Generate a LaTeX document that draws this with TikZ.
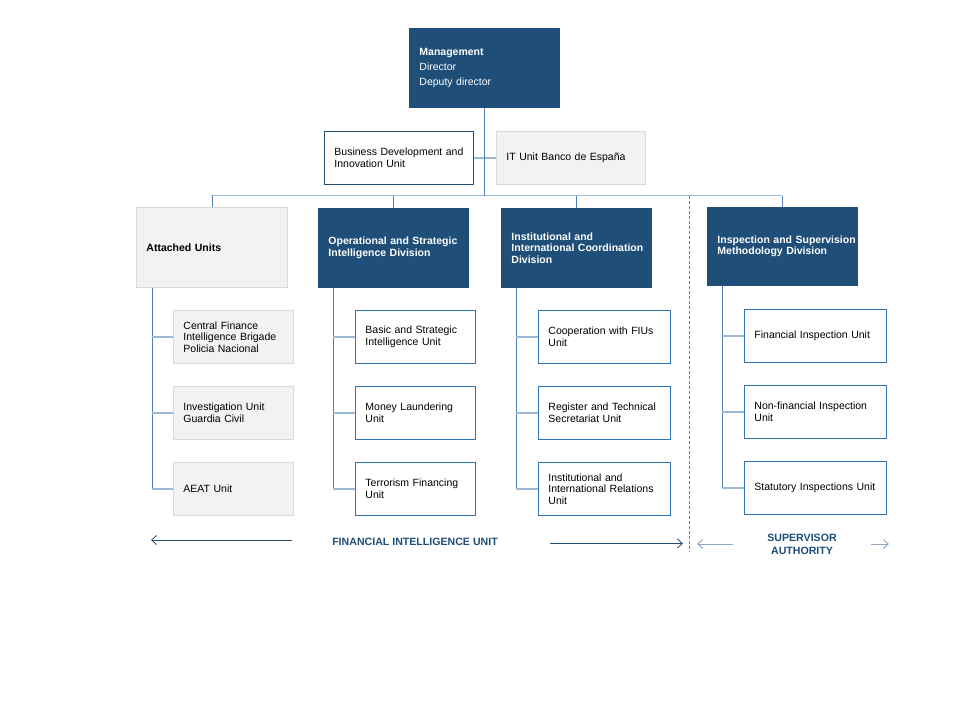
\documentclass[tikz,border=0pt]{standalone}
\usepackage{fontspec}
\setmainfont{Liberation Sans}
\usetikzlibrary{arrows.meta}
\definecolor{navy}{HTML}{1F4E79}
\definecolor{midblue}{HTML}{2E75B6}
\definecolor{stemblue}{HTML}{4F7FB5}
\definecolor{lightblue}{HTML}{9DB9D8}
\definecolor{boxgray}{HTML}{F2F2F2}
\definecolor{bordergray}{HTML}{D9D9D9}
\definecolor{arrowgray}{HTML}{8FA8C4}
\hyphenpenalty=10000
\exhyphenpenalty=10000
\begin{document}
\begin{tikzpicture}[x=1pt,y=-1pt,
  basebox/.style={rectangle, anchor=north west, inner xsep=10pt, inner ysep=0pt,
     align=left, font=\fontsize{10.5}{11.5}\selectfont, line width=0.9pt},
  darkbox/.style={basebox, fill=navy, draw=navy, text=white, font=\fontsize{10.5}{11.5}\selectfont\bfseries},
  whitebox/.style={basebox, fill=white, draw=navy},
  unitbox/.style={basebox, fill=white, draw=midblue},
  graybox/.style={basebox, fill=boxgray, draw=bordergray},
  stemline/.style={draw=stemblue, line width=0.9pt},
  branchline/.style={draw=lightblue, line width=1.6pt},
  footer/.style={text=navy, font=\fontsize{10.6}{13}\selectfont\bfseries, align=center},
  footarrow/.style={draw=navy, line width=0.8pt, -{Straight Barb[length=5pt,width=9pt]}},
  footarrowlight/.style={draw=arrowgray, line width=1pt, -{Straight Barb[length=5pt,width=9pt]}}
]
\useasboundingbox (0,0) rectangle (960,720);
\fill[white] (0,0) rectangle (960,720);

% Management
\node[darkbox, text width=130pt, minimum height=79pt, font=\fontsize{10.5}{15}\selectfont] (mgmt) at (409,28)
  {\textbf{Management}\\Director\\Deputy director};

\node[whitebox, text width=129pt, minimum height=53pt] (bdu) at (324,131)
  {\mbox{Business Development and}\\Innovation Unit};
\node[graybox, text width=129pt, minimum height=53pt] (itu) at (496,131)
  {IT Unit Banco de España};

% Divisions
\node[graybox, text width=131pt, minimum height=80pt, font=\fontsize{10.5}{11.5}\selectfont\bfseries] (att) at (136,207)
  {Attached Units};
\node[darkbox, text width=130pt, minimum height=79pt] (ops) at (318,208)
  {\mbox{Operational and Strategic}\\Intelligence Division};
\node[darkbox, text width=130pt, minimum height=79pt] (inst) at (501,208)
  {Institutional and\\\mbox{International Coordination}\\Division};
\node[darkbox, text width=130pt, minimum height=78pt] (insp) at (707,207)
  {\mbox{Inspection and Supervision}\\Methodology Division};

% Attached units children
\node[graybox, text width=100pt, minimum height=53pt] (a1) at (173,310)
  {Central Finance\\\mbox{Intelligence Brigade}\\Policia Nacional};
\node[graybox, text width=100pt, minimum height=53pt] (a2) at (173,386)
  {Investigation Unit\\Guardia Civil};
\node[graybox, text width=100pt, minimum height=53pt] (a3) at (173,462)
  {AEAT Unit};

% Operational children
\node[unitbox, text width=100pt, minimum height=53pt] (o1) at (355,310)
  {Basic and Strategic\\Intelligence Unit};
\node[unitbox, text width=100pt, minimum height=53pt] (o2) at (355,386)
  {Money Laundering\\Unit};
\node[unitbox, text width=100pt, minimum height=53pt] (o3) at (355,462)
  {\mbox{Terrorism Financing}\\Unit};

% Institutional children
\node[unitbox, text width=112pt, minimum height=53pt] (i1) at (538,310)
  {\mbox{Cooperation with FIUs}\\Unit};
\node[unitbox, text width=112pt, minimum height=53pt] (i2) at (538,386)
  {\mbox{Register and Technical}\\Secretariat Unit};
\node[unitbox, text width=112pt, minimum height=53pt] (i3) at (538,462)
  {Institutional and\\\mbox{International Relations}\\Unit};

% Inspection children
\node[unitbox, text width=122pt, minimum height=53pt] (s1) at (744,309)
  {Financial Inspection Unit};
\node[unitbox, text width=122pt, minimum height=53pt] (s2) at (744,385)
  {\mbox{Non-financial Inspection}\\Unit};
\node[unitbox, text width=122pt, minimum height=53pt] (s3) at (744,461)
  {\mbox{Statutory Inspections Unit}};

% Bus and connectors
\coordinate (busL) at (211,195.5);
\coordinate (busR) at (782,195.5);
\draw[branchline] (busL) -- (busR);
\draw[branchline] (bdu.east) -- (itu.west);
\draw[stemline] (mgmt.south) -- (mgmt.south |- busL);
\draw[stemline] (att.north) -- (att.north |- busL);
\draw[stemline] (ops.north) -- (ops.north |- busL);
\draw[stemline] (inst.north) -- (inst.north |- busL);
\draw[stemline] (insp.north) -- (insp.north |- busL);

% Column trunks
\coordinate (ta) at ([xshift=16pt]att.south west);
\coordinate (to) at ([xshift=15pt]ops.south west);
\coordinate (ti) at ([xshift=15pt]inst.south west);
\coordinate (ts) at ([xshift=15pt]insp.south west);
\draw[stemline] (ta) -- (ta |- a3.west);
\draw[stemline] (to) -- (to |- o3.west);
\draw[stemline] (ti) -- (ti |- i3.west);
\draw[stemline] (ts) -- (ts |- s3.west);
\foreach \c in {a1,a2,a3} \draw[branchline] (ta |- \c.west) -- (\c.west);
\foreach \c in {o1,o2,o3} \draw[branchline] (to |- \c.west) -- (\c.west);
\foreach \c in {i1,i2,i3} \draw[branchline] (ti |- \c.west) -- (\c.west);
\foreach \c in {s1,s2,s3} \draw[branchline] (ts |- \c.west) -- (\c.west);

% Divider
\coordinate (divtop) at (689,195.5);
\coordinate (divbot) at (689,551);
\draw[draw=stemblue, line width=0.8pt, dash pattern=on 3pt off 2pt] (divtop) -- (divbot);

% Footer
\node[footer] (fiu) at (415,542) {FINANCIAL INTELLIGENCE UNIT};
\node[footer] (sup) at (802,544) {SUPERVISOR\\AUTHORITY};
\coordinate (fa1s) at (292,540);
\coordinate (fa1e) at (151,540);
\coordinate (fa2s) at (550,543.5);
\coordinate (fa2e) at (683,543.5);
\coordinate (sa1s) at (733,544);
\coordinate (sa1e) at (697,544);
\coordinate (sa2s) at (871,544);
\coordinate (sa2e) at (889,544);
\draw[footarrow] (fa1s) -- (fa1e);
\draw[footarrow] (fa2s) -- (fa2e);
\draw[footarrowlight] (sa1s) -- (sa1e);
\draw[footarrowlight] (sa2s) -- (sa2e);
\end{tikzpicture}
\end{document}
